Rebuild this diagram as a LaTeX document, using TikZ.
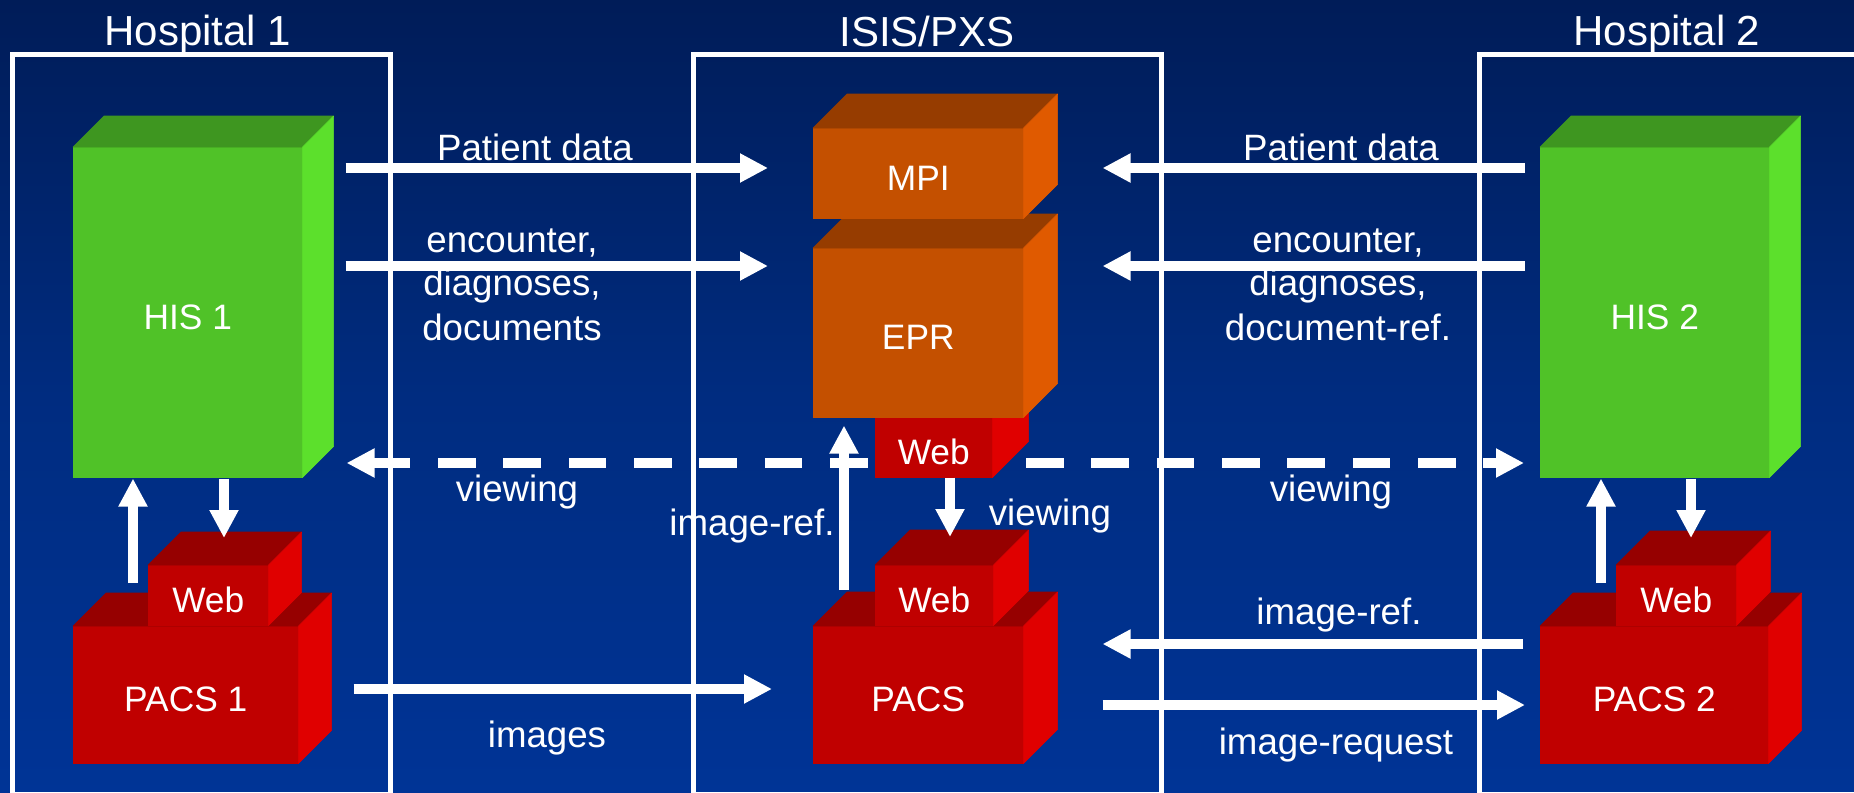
\documentclass[tikz,border=0pt]{standalone}
\usepackage{fontspec}
\setmainfont{Liberation Sans}
\usetikzlibrary{arrows.meta,calc}

\definecolor{bgtop}{RGB}{0,28,88}
\definecolor{bgmid}{RGB}{0,44,128}
\definecolor{bgbot}{RGB}{0,52,150}
\definecolor{grnF}{RGB}{80,194,40}
\definecolor{grnT}{RGB}{62,150,32}
\definecolor{grnS}{RGB}{92,224,44}
\definecolor{orgF}{RGB}{196,80,0}
\definecolor{orgT}{RGB}{150,60,0}
\definecolor{orgS}{RGB}{224,90,0}
\definecolor{redF}{RGB}{192,0,0}
\definecolor{redT}{RGB}{150,0,0}
\definecolor{redS}{RGB}{224,0,0}

\pgfdeclarelayer{back}
\pgfsetlayers{back,main}

\tikzset{
  frontface/.style={rectangle, inner sep=0pt},
  boxlabel/.style={text=white, inner sep=0pt, font=\fontsize{26.5}{30}\selectfont},
  frame/.style={draw=white, line width=3.75pt},
  title/.style={text=white, font=\fontsize{31.5}{36}\selectfont, anchor=base, inner sep=0pt},
  flow/.style={text=white, font=\fontsize{27.5}{33}\selectfont, anchor=base, inner sep=0pt},
  arr/.style={draw=white, line width=7.1pt, -{Triangle[length=21pt,width=20.5pt]}},
  dasharr/.style={draw=white, line width=6.8pt,
    {Triangle[length=21pt,width=20.5pt]}-{Triangle[length=21pt,width=20.5pt]},
    dash pattern=on 28.1pt off 20.9pt},
}

% 3-D block: name, left x, top y, width, height, depth, colour set, label
\newcommand\cuboid[8]{%
  \node[frontface, fill=#7F, draw=#7F, line width=0.4pt,
        minimum width=#4*0.75pt, minimum height=#5*0.75pt,
        anchor=north west] (#1) at (#2,#3) {};
  \filldraw[fill=#7T, draw=#7T, line width=0.4pt, line join=round]
    (#1.north west) -- ++(#6,-#6) -- ($(#1.north east)+(#6,-#6)$) -- (#1.north east) -- cycle;
  \filldraw[fill=#7S, draw=#7S, line width=0.4pt, line join=round]
    (#1.north east) -- ++(#6,-#6) -- ($(#1.south east)+(#6,-#6)$) -- (#1.south east) -- cycle;
  \node[boxlabel] (#1-label) at ([yshift=-3.75pt]#1.center) {#8};
}

\begin{document}
\begin{tikzpicture}[x=0.75pt, y=-0.75pt]
\useasboundingbox (0,0) rectangle (1854,793);

\begin{pgfonlayer}{back}
  \shade[top color=bgtop, bottom color=bgbot, middle color=bgmid] (0,0) rectangle (1854,793);
  % site frames
  \draw[frame] (12,54) rectangle (390,794);
  \draw[frame] (693,54) rectangle (1161,794);
  \draw[frame] (1479,54) rectangle (1860,794);
\end{pgfonlayer}

% site titles
\node[title] (t1) at (198,45) {Hospital 1};
\node[title] (t2) at (927,46) {ISIS/PXS};
\node[title] (t3) at (1667,45) {Hospital 2};

% lanes used by the connectors
\coordinate (rowA) at (0,168);
\coordinate (rowB) at (0,266);
\coordinate (rowV) at (0,463);
\coordinate (rowR) at (0,644);
\coordinate (rowI) at (0,689);
\coordinate (rowQ) at (0,705);
\coordinate (colA) at (133,0);
\coordinate (colB) at (224,0);
\coordinate (colC) at (844,0);
\coordinate (colD) at (950,0);
\coordinate (colE) at (1601,0);
\coordinate (colF) at (1691,0);

% Hospital 1
\cuboid{his1}{73}{147}{229}{330}{31}{grn}{HIS 1}
\cuboid{pacs1}{73}{626}{225}{137}{33}{red}{PACS 1}
\cuboid{wpacs1}{148}{565}{120}{60}{33}{red}{Web}

% ISIS/PXS
\cuboid{wepr}{875}{417}{117}{60}{36}{red}{Web}
\cuboid{epr}{813}{248}{210}{169}{34}{org}{EPR}
\cuboid{mpi}{813}{128}{210}{90}{34}{org}{MPI}
\cuboid{pacs}{813}{626}{210}{137}{34}{red}{PACS}
\cuboid{wpacs}{875}{565}{118}{60}{35}{red}{Web}

% Hospital 2
\cuboid{his2}{1540}{147}{229}{330}{31}{grn}{HIS 2}
\cuboid{pacs2}{1540}{626}{228}{137}{33}{red}{PACS 2}
\cuboid{wpacs2}{1616}{565}{120}{60}{34}{red}{Web}

% viewing link, running behind the EPR web front end
\begin{pgfonlayer}{back}
  \draw[dasharr, shorten <=33pt, shorten >=12pt] (his1.east |- rowV) -- (his2.west |- rowV);
\end{pgfonlayer}

% data flows into ISIS/PXS
\draw[arr, shorten <=32.25pt, shorten >=33.75pt] (his1.east |- rowA) -- (mpi.west |- rowA);
\draw[arr, shorten <=32.25pt, shorten >=33.75pt] (his1.east |- rowB) -- (epr.west |- rowB);
\draw[arr, shorten <=11.25pt, shorten >=59.25pt] (his2.west |- rowA) -- (mpi.east |- rowA);
\draw[arr, shorten <=11.25pt, shorten >=59.25pt] (his2.west |- rowB) -- (epr.east |- rowB);

% image flows
\draw[arr, shorten <=41.25pt, shorten >=30.75pt] (pacs1.east |- rowI) -- (pacs.west |- rowI);
\draw[arr, shorten <=12.75pt, shorten >=59.25pt] (pacs2.west |- rowR) -- (pacs.east |- rowR);
\draw[arr, shorten <=59.25pt, shorten >=11.25pt] (pacs.east |- rowQ) -- (pacs2.west |- rowQ);

% vertical links
\draw[arr, shorten <=32.25pt, shorten >=0.75pt] (pacs1.north -| colA) -- (his1.south -| colA);
\draw[arr, shorten <=0.75pt, shorten >=20.25pt] (his1.south -| colB) -- (wpacs1.north -| colB);
\draw[arr, shorten <=27pt, shorten >=6pt] (pacs.north -| colC) -- (epr.south -| colC);
\draw[arr, shorten >=21pt] (wepr.south -| colD) -- (wpacs.north -| colD);
\draw[arr, shorten <=32.25pt, shorten >=0.75pt] (pacs2.north -| colE) -- (his2.south -| colE);
\draw[arr, shorten <=0.75pt, shorten >=20.25pt] (his2.south -| colF) -- (wpacs2.north -| colF);

% flow labels
\node[flow] (l1) at (535,160) {Patient data};
\node[flow] (l2) at (512,252) {encounter,};
\node[flow] (l3) at (512,295) {diagnoses,};
\node[flow] (l4) at (512,340) {documents};
\node[flow] (r1) at (1341,160) {Patient data};
\node[flow] (r2) at (1338,252) {encounter,};
\node[flow] (r3) at (1338,295) {diagnoses,};
\node[flow] (r4) at (1338,340) {document-ref.};
\node[flow] (v1) at (517,501) {viewing};
\node[flow] (v2) at (1050,525) {viewing};
\node[flow] (v3) at (1331,501) {viewing};
\node[flow] (i1) at (752,535) {image-ref.};
\node[flow] (i2) at (547,747) {images};
\node[flow] (i3) at (1339,624) {image-ref.};
\node[flow] (i4) at (1336,754) {image-request};
\end{tikzpicture}
\end{document}
